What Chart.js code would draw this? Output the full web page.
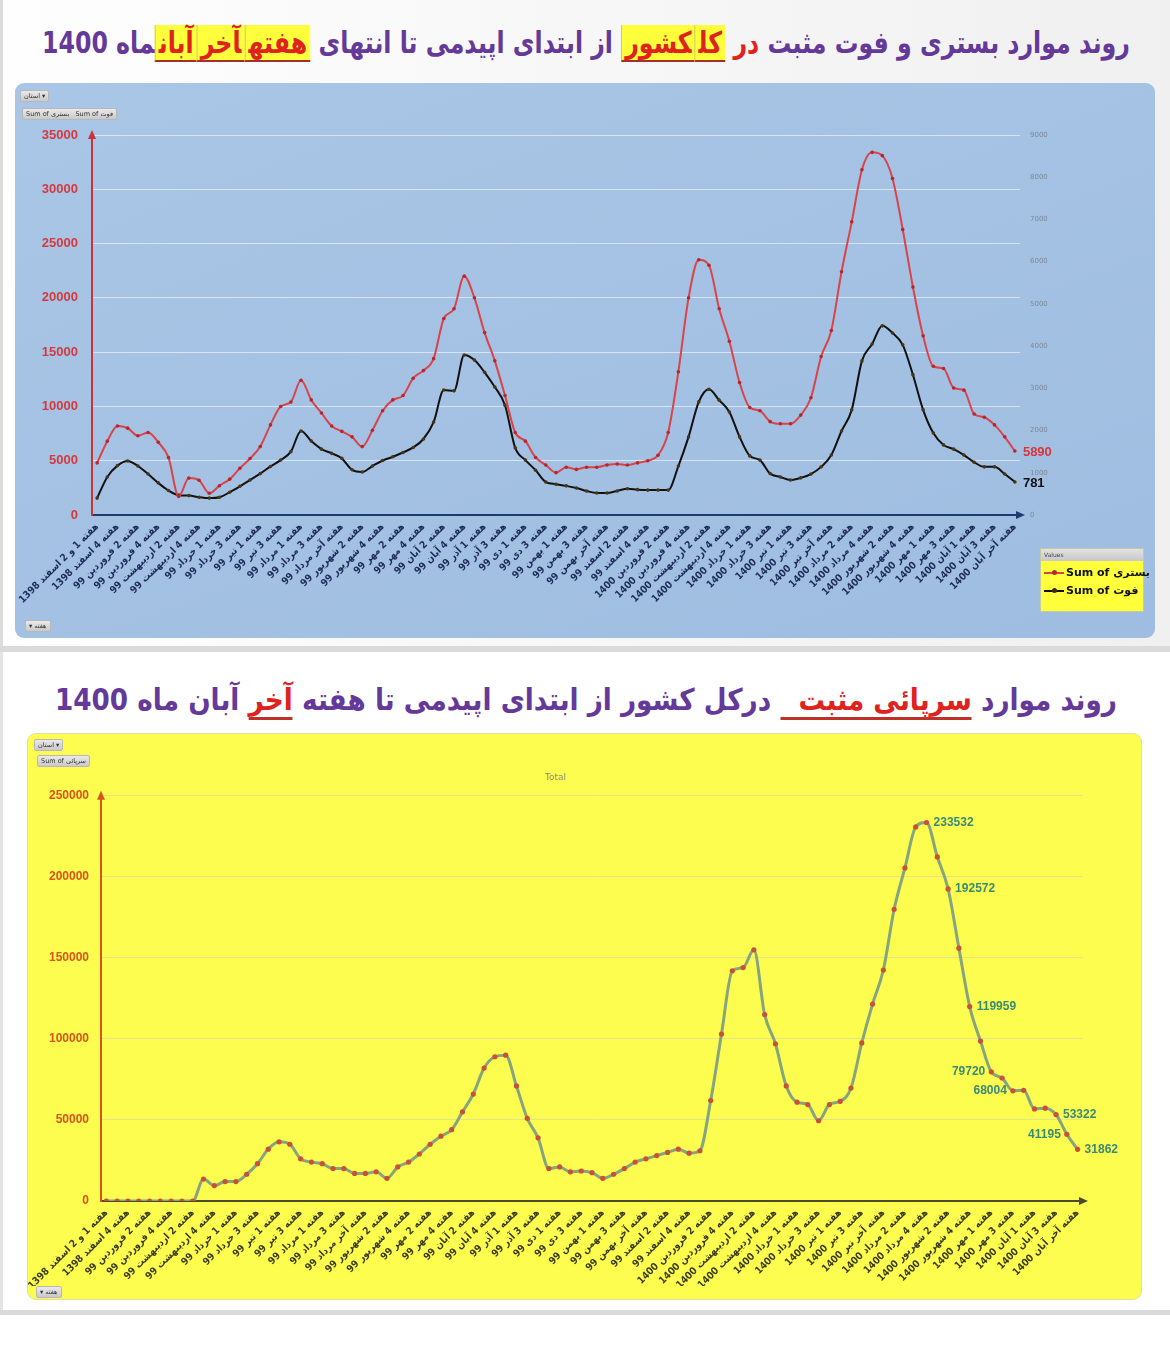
<!DOCTYPE html>
<html>
<head>
<meta charset="utf-8">
<script src="https://cdn.jsdelivr.net/npm/chart.js@4.4.0/dist/chart.umd.min.js"></script>
<style>
html, body { margin: 0; padding: 0; background: #fff; }
body { width: 1170px; height: 1356px; position: relative; overflow: hidden; font-family: 'DejaVu Sans', sans-serif; }
.band1 { position: absolute; left: 0; top: 0; width: 1170px; height: 646px; background: linear-gradient(90deg, #fefefe, #f0f0f0); border-left: 3px solid #dcdcdc; box-sizing: border-box; }
.sep { position: absolute; left: 0; width: 1170px; background: #dadada; }
.band2 { position: absolute; left: 0; top: 652px; width: 1170px; height: 658px; background: #fff; border-left: 3px solid #e4e4e4; box-sizing: border-box; }
.title { position: absolute; white-space: nowrap; font-weight: bold; color: #64399a; direction: rtl; transform-origin: right center; }
.hl { background: #ffff3c; color: #e0221e; border-bottom: 2px solid #a3302a; border-left: 1px solid #c8c040; padding: 0 4px; }
.red { color: #e0221e; }
.ul { color: #e0221e; border-bottom: 3px solid #c0302a; }
.panel { position: absolute; border-radius: 9px; overflow: hidden; }
.panel canvas { position: absolute; left: 0; top: 0; }
.btn { position: absolute; background: linear-gradient(#eaeaea, #c9c9c9); border: 1px solid #b8b8b8; border-radius: 2px; font-size: 6.5px; color: #333; line-height: 10px; padding: 0 3px; white-space: nowrap; z-index: 2; }
.legend { position: absolute; background: #ffff3c; border: 1px solid #c8c8a0; width: 102px; height: 62px; z-index: 2; }
.legend .hd { background: linear-gradient(#e2e2e2, #c8c8c8); font-size: 6px; color: #444; height: 12px; line-height: 12px; padding-left: 3px; }
.legend .row { font-size: 11px; font-weight: bold; color: #111; height: 23px; line-height: 23px; padding-left: 3px; white-space: nowrap; }
.sw { display: inline-block; width: 20px; height: 2px; vertical-align: middle; position: relative; margin-right: 2px; }
.sw i { position: absolute; left: 8px; top: -2px; width: 5px; height: 5px; border-radius: 50%; }
</style>
</head>
<body>
<div class="band1"></div>
<div class="sep" style="top:646px;height:6px"></div>
<div class="band2"></div>
<div class="sep" style="top:1310px;height:5px"></div>

<div class="title" id="t1" style="right:40px;top:22px;font-size:30px;line-height:42px">روند موارد بستری و فوت مثبت <span class="red">در</span> <span class="hl">کل</span><span class="hl">کشور</span> از ابتدای اپیدمی تا انتهای <span class="hl">هفته</span><span class="hl">آخر</span><span class="hl">آبان</span>ماه 1400</div>

<div class="panel" style="left:15px;top:83px;width:1140px;height:555px;background:linear-gradient(160deg,#a9c6e6,#9fbde0)">
  <div class="btn" style="left:5px;top:7px">استان ▾</div>
  <div class="btn" style="left:7px;top:25px">Sum of بستری &nbsp; Sum of فوت</div>
  <div class="btn" style="left:10px;top:537px">▾ هفته</div>
  <div class="legend" style="left:1025px;top:465px">
    <div class="hd">Values</div>
    <div class="row"><span class="sw" style="background:#d9444a"><i style="background:#b02a30"></i></span>Sum of بستری</div>
    <div class="row" style="line-height:14px"><span class="sw" style="background:#111"><i style="background:#3a2a10"></i></span>Sum of فوت</div>
  </div>
  <div style="position:absolute;left:0;top:0;width:1140px;height:555px"><canvas id="topChart"></canvas></div>
</div>

<div class="title" id="t2" style="right:53px;top:679px;font-size:30px;line-height:42px">روند موارد <span class="ul">سرپائی مثبت&nbsp;&nbsp;</span> درکل کشور از ابتدای اپیدمی تا هفته <span class="ul">آخر</span> آبان ماه 1400</div>

<div class="panel" style="left:27px;top:733px;width:1115px;height:567px;background:#fdfd50;border:1px solid #e0e0a0;box-sizing:border-box">
  <div class="btn" style="left:6px;top:5px">استان ▾</div>
  <div class="btn" style="left:9px;top:21px">Sum of سرپائی</div>
  <div class="btn" style="left:8px;top:552px">▾ هفته</div>
  <div style="position:absolute;left:0;top:0;width:1115px;height:567px"><canvas id="bottomChart"></canvas></div>
</div>

<script>
// week categories (one point per week, every other one is labelled)
const weekLabels = [
  'هفته 1 و 2 اسفند 1398', 'هفته 3 اسفند 1398', 'هفته 4 اسفند 1398',
  'هفته 1 فروردین 99', 'هفته 2 فروردین 99', 'هفته 3 فروردین 99', 'هفته 4 فروردین 99',
  'هفته 1 اردیبهشت 99', 'هفته 2 اردیبهشت 99', 'هفته 3 اردیبهشت 99', 'هفته 4 اردیبهشت 99', 'هفته آخر اردیبهشت 99',
  'هفته 1 خرداد 99', 'هفته 2 خرداد 99', 'هفته 3 خرداد 99', 'هفته 4 خرداد 99',
  'هفته 1 تیر 99', 'هفته 2 تیر 99', 'هفته 3 تیر 99', 'هفته 4 تیر 99',
  'هفته 1 مرداد 99', 'هفته 2 مرداد 99', 'هفته 3 مرداد 99', 'هفته 4 مرداد 99', 'هفته آخر مرداد 99',
  'هفته 1 شهریور 99', 'هفته 2 شهریور 99', 'هفته 3 شهریور 99', 'هفته 4 شهریور 99',
  'هفته 1 مهر 99', 'هفته 2 مهر 99', 'هفته 3 مهر 99', 'هفته 4 مهر 99',
  'هفته 1 آبان 99', 'هفته 2 آبان 99', 'هفته 3 آبان 99', 'هفته 4 آبان 99', 'هفته آخر آبان 99',
  'هفته 1 آذر 99', 'هفته 2 آذر 99', 'هفته 3 آذر 99', 'هفته 4 آذر 99',
  'هفته 1 دی 99', 'هفته 2 دی 99', 'هفته 3 دی 99', 'هفته 4 دی 99',
  'هفته 1 بهمن 99', 'هفته 2 بهمن 99', 'هفته 3 بهمن 99', 'هفته 4 بهمن 99', 'هفته آخر بهمن 99',
  'هفته 1 اسفند 99', 'هفته 2 اسفند 99', 'هفته 3 اسفند 99', 'هفته 4 اسفند 99',
  'هفته 1 فروردین 1400', 'هفته 2 فروردین 1400', 'هفته 3 فروردین 1400', 'هفته 4 فروردین 1400',
  'هفته 1 اردیبهشت 1400', 'هفته 2 اردیبهشت 1400', 'هفته 3 اردیبهشت 1400', 'هفته 4 اردیبهشت 1400', 'هفته آخر اردیبهشت 1400',
  'هفته 1 خرداد 1400', 'هفته 2 خرداد 1400', 'هفته 3 خرداد 1400', 'هفته 4 خرداد 1400',
  'هفته 1 تیر 1400', 'هفته 2 تیر 1400', 'هفته 3 تیر 1400', 'هفته 4 تیر 1400', 'هفته آخر تیر 1400',
  'هفته 1 مرداد 1400', 'هفته 2 مرداد 1400', 'هفته 3 مرداد 1400', 'هفته 4 مرداد 1400',
  'هفته 1 شهریور 1400', 'هفته 2 شهریور 1400', 'هفته 3 شهریور 1400', 'هفته 4 شهریور 1400', 'هفته آخر شهریور 1400',
  'هفته 1 مهر 1400', 'هفته 2 مهر 1400', 'هفته 3 مهر 1400', 'هفته 4 مهر 1400',
  'هفته 1 آبان 1400', 'هفته 2 آبان 1400', 'هفته 3 آبان 1400', 'هفته 4 آبان 1400', 'هفته آخر آبان 1400'
];

// بستری (left axis)
const hospitalized = [
  4800, 6800, 8200, 8000, 7300, 7600, 6700, 5300, 1700, 3400,
  3200, 2000, 2700, 3300, 4300, 5200, 6300, 8300, 10000, 10400,
  12400, 10600, 9400, 8200, 7700, 7200, 6300, 7800, 9600, 10600,
  11000, 12600, 13300, 14400, 18100, 19000, 22000, 20000, 16800, 14200,
  11000, 7600, 6800, 5300, 4600, 3900, 4400, 4200, 4400, 4400,
  4600, 4700, 4600, 4800, 5000, 5500, 7600, 13200, 20000, 23500,
  23000, 19000, 16000, 12200, 9900, 9600, 8600, 8400, 8400, 9200,
  10800, 14600, 17000, 22400, 27000, 31800, 33400, 33100, 31000, 26300,
  21000, 16500, 13700, 13500, 11700, 11500, 9300, 9000, 8300, 7200,
  5890
];

// فوت (right axis)
const deaths = [
  400, 900, 1170, 1280, 1160, 970, 760, 580, 470, 460,
  420, 400, 420, 540, 680, 830, 980, 1150, 1300, 1500,
  1990, 1750, 1560, 1460, 1340, 1070, 1020, 1160, 1290, 1380,
  1480, 1600, 1800, 2200, 2960, 2940, 3790, 3670, 3380, 3030,
  2600, 1590, 1300, 1060, 780, 730, 690, 640, 570, 520,
  520, 570, 620, 600, 590, 590, 590, 1160, 1850, 2680,
  2980, 2720, 2440, 1850, 1400, 1300, 980, 900, 830, 880,
  970, 1140, 1420, 1990, 2490, 3650, 4050, 4480, 4310, 4030,
  3320, 2490, 1940, 1660, 1560, 1420, 1250, 1140, 1140, 970,
  781
];

// سرپائی مثبت
const outpatient = [
  0, 0, 0, 0, 0, 0, 0, 0, 0, 13500,
  9500, 12000, 12000, 16500, 23000, 32000, 36500, 35000, 26000, 24000,
  23000, 20000, 20000, 17000, 17000, 18000, 14000, 21000, 24000, 29000,
  35000, 40000, 44000, 55000, 66000, 82000, 89000, 90000, 71000, 51000,
  39000, 20000, 21000, 18000, 18500, 17500, 14000, 16500, 20000, 24000,
  26000, 28000, 30000, 32000, 29500, 31000, 62000, 103000, 142000, 144000,
  155000, 115000, 97000, 71000, 61000, 59500, 49500, 59500, 61500, 69700,
  97500, 121500, 142500, 180000, 205500, 230800, 233532, 212300, 192572, 156000,
  119959, 98700, 79720, 75900, 68004, 68300, 56800, 57300, 53322, 41195,
  31862
];

// weeks whose value is written on the lower chart
const labelledWeeks = [76, 78, 80, 82, 84, 88, 89, 90];

const hospAxis = { max: 35000, step: 5000 };
const deathAxis = { max: 9000, step: 1000 };
const outAxis = { max: 250000, step: 50000 };

Chart.defaults.font.family = "'DejaVu Sans', sans-serif";
Chart.defaults.animation = false;

function everyOther(v, i) {
  return i % 2 === 0 ? this.getLabelForValue(v) : '';
}
const plain = v => String(v);

// let the rotated week labels run past the plot edges like the original
function xFit(h) {
  return s => { s.height = h; s.paddingLeft = 0; s.paddingRight = 0; };
}

// arrow heads on the axis lines
const axisArrows = {
  id: 'axisArrows',
  afterDraw(chart, args, o) {
    const { ctx, chartArea: a } = chart;
    ctx.save();
    ctx.fillStyle = o.yColor;
    ctx.beginPath();
    ctx.moveTo(a.left, a.top - 5);
    ctx.lineTo(a.left - 4, a.top + 4);
    ctx.lineTo(a.left + 4, a.top + 4);
    ctx.fill();
    ctx.fillStyle = o.xColor;
    ctx.beginPath();
    ctx.moveTo(a.right + 5, a.bottom);
    ctx.lineTo(a.right - 4, a.bottom - 4);
    ctx.lineTo(a.right - 4, a.bottom + 4);
    ctx.fill();
    ctx.restore();
  }
};

// value of the last point of each series (top chart)
const lastValues = {
  id: 'lastValues',
  afterDatasetsDraw(chart) {
    const { ctx } = chart;
    ctx.save();
    ctx.font = "bold 13px 'Liberation Sans', sans-serif";
    ctx.textBaseline = 'middle';
    ctx.textAlign = 'left';
    chart.data.datasets.forEach((ds, di) => {
      const meta = chart.getDatasetMeta(di);
      const pt = meta.data[meta.data.length - 1];
      ctx.fillStyle = ds.endLabelColor;
      ctx.fillText(ds.data[ds.data.length - 1], pt.x + 8, pt.y + 1);
    });
    ctx.restore();
  }
};

// values written next to selected points (bottom chart)
const pointValues = {
  id: 'pointValues',
  afterDatasetsDraw(chart, args, o) {
    const { ctx } = chart;
    const meta = chart.getDatasetMeta(0);
    const data = chart.data.datasets[0].data;
    ctx.save();
    ctx.font = "bold 12px 'Liberation Sans', sans-serif";
    ctx.fillStyle = o.color;
    ctx.textBaseline = 'middle';
    o.indices.forEach(idx => {
      const pt = meta.data[idx];
      const left = o.leftSide.includes(idx);
      ctx.textAlign = left ? 'right' : 'left';
      ctx.fillText(data[idx], pt.x + (left ? -6 : 7), pt.y);
    });
    ctx.restore();
  }
};

const weekFont = { family: "'DejaVu Sans Condensed', 'DejaVu Sans', sans-serif", size: 10, weight: 'bold' };

new Chart(document.getElementById('topChart'), {
  type: 'line',
  data: {
    labels: weekLabels,
    datasets: [{
      label: 'Sum of بستری',
      data: hospitalized,
      yAxisID: 'y',
      borderColor: '#d9444a',
      borderWidth: 2,
      pointRadius: 1.8,
      pointBackgroundColor: '#b8262c',
      pointBorderWidth: 0,
      cubicInterpolationMode: 'monotone',
      endLabelColor: '#d8353c'
    }, {
      label: 'Sum of فوت',
      data: deaths,
      yAxisID: 'y1',
      borderColor: '#111111',
      borderWidth: 2,
      pointRadius: 1.8,
      pointBackgroundColor: '#4a3414',
      pointBorderWidth: 0,
      cubicInterpolationMode: 'monotone',
      endLabelColor: '#111111'
    }]
  },
  options: {
    responsive: true,
    maintainAspectRatio: false,
    layout: { padding: { top: 52, right: 95, bottom: 23, left: 0 } },
    plugins: {
      legend: { display: false },
      tooltip: { enabled: false },
      axisArrows: { yColor: '#c9333a', xColor: '#1f3a6e' }
    },
    scales: {
      x: {
        offset: true,
        grid: { display: false, drawTicks: false },
        border: { color: '#1f3a6e', width: 2 },
        ticks: {
          autoSkip: false, minRotation: 45, maxRotation: 45, padding: 6,
          color: '#1c2b5a', font: weekFont,
          callback: everyOther
        },
        afterFit: xFit(100)
      },
      y: {
        position: 'left', min: 0, max: hospAxis.max,
        ticks: { stepSize: hospAxis.step, padding: 14, color: '#d33a3f', callback: plain, font: { family: "'Liberation Sans', sans-serif", size: 13, weight: 'bold' } },
        grid: { color: 'rgba(255,255,255,0.55)', drawTicks: false },
        border: { color: '#c9333a', width: 2 },
        afterFit(s) { s.width = 77; }
      },
      y1: {
        position: 'right', min: 0, max: deathAxis.max,
        ticks: { stepSize: deathAxis.step, padding: 10, color: '#7d8896', callback: plain, font: { size: 7 } },
        grid: { display: false, drawTicks: false },
        border: { display: false },
        afterFit(s) { s.width = 40; }
      }
    }
  },
  plugins: [axisArrows, lastValues]
});

new Chart(document.getElementById('bottomChart'), {
  type: 'line',
  data: {
    labels: weekLabels,
    datasets: [{
      label: 'Total',
      data: outpatient,
      borderColor: '#86a47e',
      borderWidth: 3,
      pointRadius: 2.6,
      pointBackgroundColor: '#c9503a',
      pointBorderWidth: 0,
      cubicInterpolationMode: 'monotone'
    }]
  },
  options: {
    responsive: true,
    maintainAspectRatio: false,
    layout: { padding: { top: 38, right: 60, bottom: 15, left: 0 } },
    plugins: {
      legend: { display: false },
      tooltip: { enabled: false },
      title: { display: true, text: 'Total', color: '#8a8a78', font: { size: 9, weight: 'normal' }, padding: { top: 0, bottom: 13 } },
      axisArrows: { yColor: '#d9531e', xColor: '#4b4b2b' },
      pointValues: { indices: labelledWeeks, leftSide: [82, 84, 89], color: '#3a8a78' }
    },
    scales: {
      x: {
        offset: true,
        grid: { display: false, drawTicks: false },
        border: { color: '#4b4b2b', width: 2 },
        ticks: {
          autoSkip: false, minRotation: 45, maxRotation: 45, padding: 6,
          color: '#3a3a1c', font: weekFont,
          callback: everyOther
        },
        afterFit: xFit(85)
      },
      y: {
        min: 0, max: outAxis.max,
        ticks: { stepSize: outAxis.step, padding: 12, color: '#d9531e', callback: plain, font: { family: "'Liberation Sans', sans-serif", size: 12, weight: 'bold' } },
        grid: { color: 'rgba(215,215,170,0.7)', drawTicks: false },
        border: { color: '#d9531e', width: 2 },
        afterFit(s) { s.width = 73; }
      }
    }
  },
  plugins: [axisArrows, pointValues]
});

// stretch the titles to the width they have in the picture
function fitTitle(id, w) {
  const el = document.getElementById(id);
  el.style.transform = 'scaleX(' + (w / el.offsetWidth) + ')';
}
fitTitle('t1', 1088);
fitTitle('t2', 1062);
</script>
</body>
</html>
